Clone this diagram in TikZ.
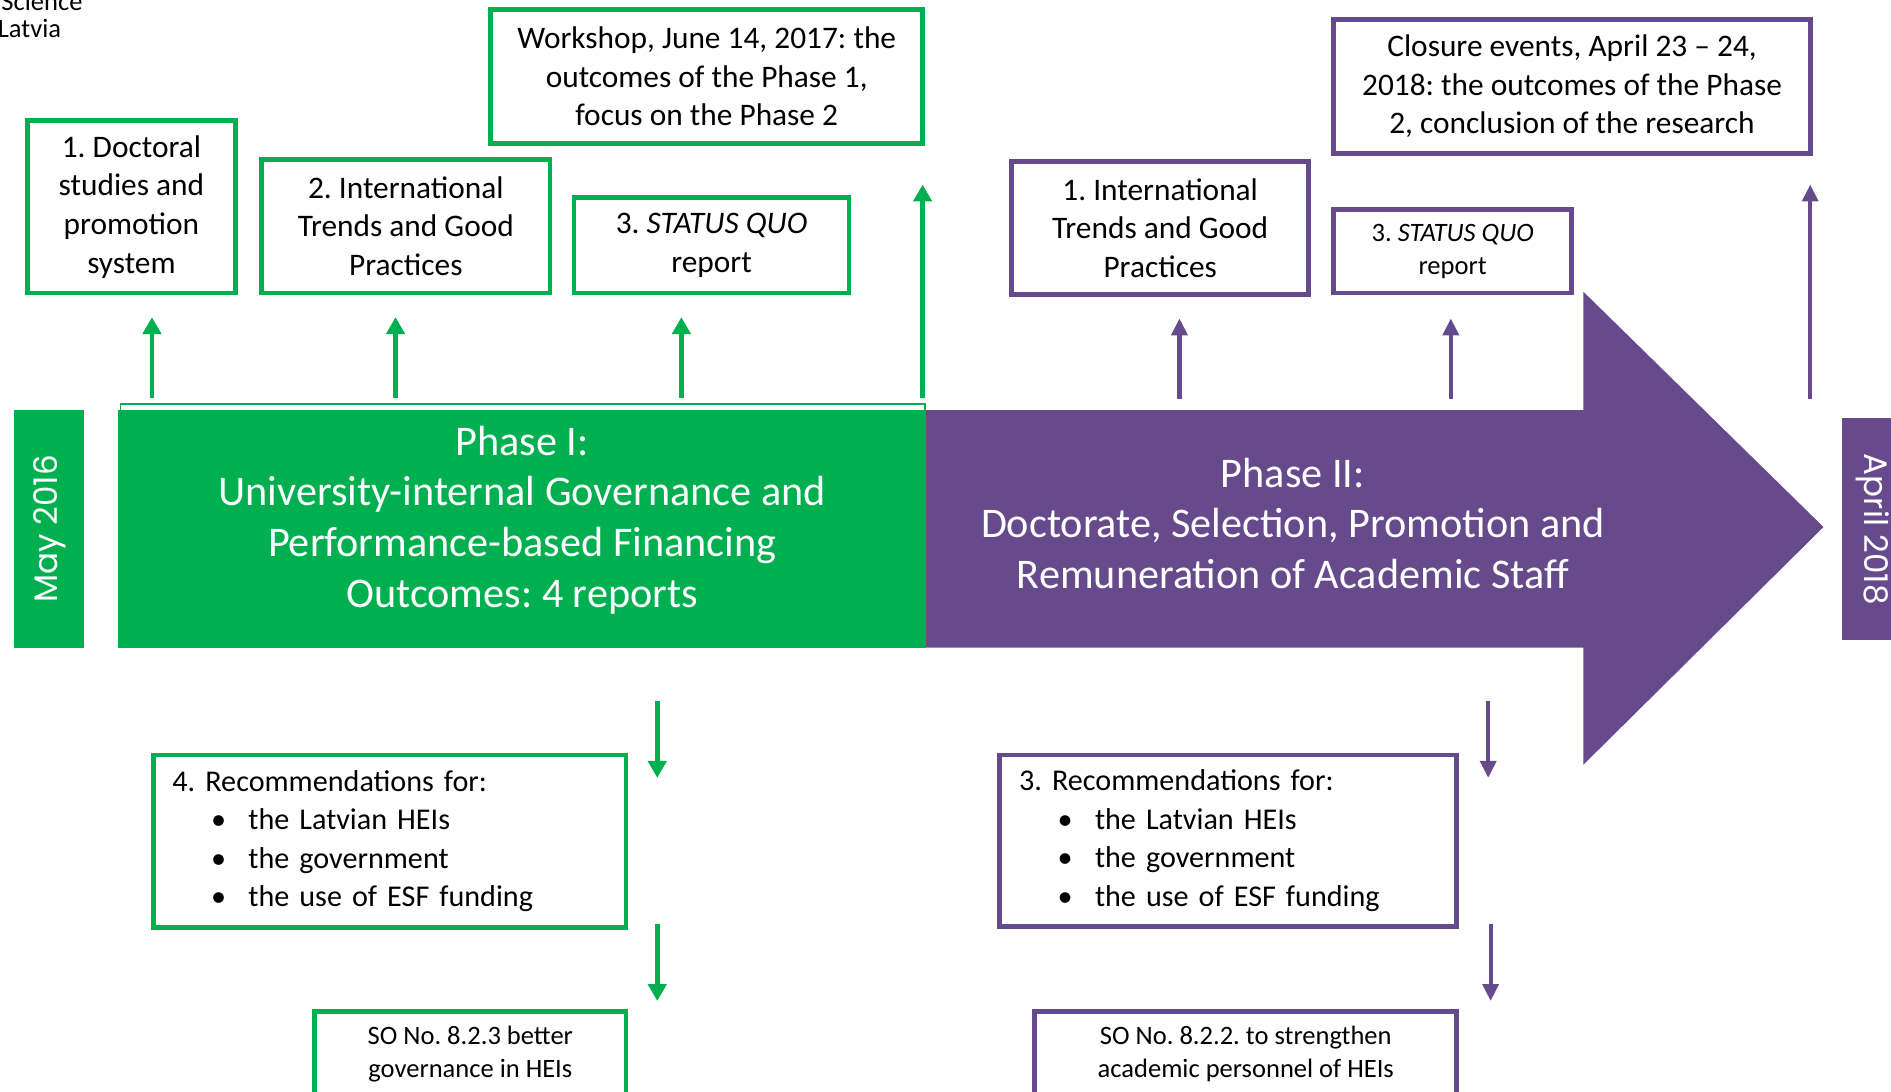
\documentclass[tikz,border=0pt]{standalone}
\usepackage{fontspec}
\setmainfont{Carlito}
\newfontfamily\datefont{Poppins}
\usetikzlibrary{arrows.meta}
\definecolor{sgreen}{HTML}{00B050}
\definecolor{spurple}{HTML}{674A8C}

\newcommand{\recitem}[1]{\hspace*{32pt}\makebox[31pt][l]{\textbullet}#1}

\tikzset{
  gbox/.style={draw=sgreen, line width=4pt, fill=white, inner sep=0pt, align=center, text=black},
  pbox/.style={draw=spurple, line width=4pt, fill=white, inner sep=0pt, align=center, text=black},
  bigtext/.style={font=\fontsize{26}{32}\selectfont},
  rectext/.style={font=\fontsize{25}{32}\selectfont},
  smalltext/.style={font=\fontsize{22}{27}\selectfont},
  phasetext/.style={text=white, font=\fontsize{35}{42}\selectfont, align=center, inner sep=0pt},
  datebox/.style={text=white, font=\datefont\fontsize{27}{30}\selectfont, inner sep=0pt},
  garrow/.style={draw=sgreen, line width=4pt, -{Triangle[width=15pt,length=14pt]}},
  parrow/.style={draw=spurple, line width=3.5pt, -{Triangle[width=13pt,length=14pt]}},
}

\begin{document}
\frenchspacing
\begin{tikzpicture}[x=1pt,y=-1pt]
\useasboundingbox (0,0) rectangle (1568,905);
\clip (0,0) rectangle (1568,905);

% header text at the top left corner
\node[anchor=base west, inner sep=0pt, font=\fontsize{22}{26}\selectfont] (sci) at (1,9) {Science};
\node[anchor=base west, inner sep=0pt, font=\fontsize{22}{26}\selectfont] (lat) at (-2,31) {Latvia};

% phase bars
\draw[sgreen, line width=1pt] (100,335) rectangle (767,341);
\fill[spurple] (768,340) -- (1313,340) -- (1313,242) -- (1512,437) -- (1313,634) -- (1313,537) -- (768,537) -- cycle;
\fill[sgreen] (98,340) rectangle (768,537);

\node[phasetext] (ph1) at (433,431) {Phase I:\\University-internal Governance and\\Performance-based Financing\\Outcomes: 4 reports};
\node[phasetext] (ph2) at (1072,434) {Phase II:\\Doctorate, Selection, Promotion and\\Remuneration of Academic Staff};

% start and end dates
\node[datebox, fill=sgreen, rotate=90, minimum width=197pt, minimum height=58pt] (may) at (41,438.5) {May 2016};
\node[datebox, fill=spurple, rotate=-90, minimum width=184pt, minimum height=52pt] (apr) at (1553,439) {April 2018};

% phase I outputs
\node[gbox, bigtext, minimum width=172pt, minimum height=143pt] (g1) at (109,171.5) {1. Doctoral\\studies and\\promotion\\system};
\node[gbox, bigtext, minimum width=239pt, minimum height=111pt] (g2) at (336.5,187.5) {2. International\\Trends and Good\\Practices};
\node[gbox, bigtext, minimum width=228pt, minimum height=79pt] (g3) at (590,203.5) {3. \textit{STATUS QUO}\\report};
\node[gbox, bigtext, minimum width=358pt, minimum height=111pt] (gw) at (586,63.5) {Workshop, June 14, 2017: the\\outcomes of the Phase 1,\\focus on the Phase 2};

% phase II outputs
\node[pbox, bigtext, minimum width=246pt, minimum height=110pt] (p1) at (962,189) {1. International\\Trends and Good\\Practices};
\node[pbox, smalltext, minimum width=197pt, minimum height=69pt] (p3) at (1204.5,208.5) {3. \textit{STATUS QUO}\\report};
\node[pbox, bigtext, minimum width=395pt, minimum height=111pt] (pc) at (1303.5,71.5) {Closure events, April 23 -- 24,\\2018: the outcomes of the Phase\\2, conclusion of the research};

% recommendations
\node[gbox, rectext, align=left, inner xsep=16pt, text width=360pt, minimum width=392pt, minimum height=143pt] (grec) at (323,697.5)
  {4. Recommendations for:\\\recitem{the Latvian HEIs}\\\recitem{the government}\\\recitem{the use of ESF funding}};
\node[pbox, rectext, align=left, inner xsep=16pt, text width=347pt, minimum width=379pt, minimum height=142pt] (prec) at (1018.5,697)
  {3. Recommendations for:\\\recitem{the Latvian HEIs}\\\recitem{the government}\\\recitem{the use of ESF funding}};

% specific objectives
\node[gbox, minimum width=258pt, minimum height=140pt] (gso) at (390,909) {};
\node[smalltext, align=center, anchor=north, inner sep=0pt] (gsot) at (390,851) {SO No. 8.2.3 better\\governance in HEIs};
\node[pbox, minimum width=350pt, minimum height=140pt] (pso) at (1033,909) {};
\node[smalltext, align=center, anchor=north, inner sep=0pt] (psot) at (1033,851) {SO No. 8.2.2. to strengthen\\academic personnel of HEIs};

% arrow end points
\coordinate (ga1s) at (126,330);  \coordinate (ga1e) at (126,263);
\coordinate (ga2s) at (328,330);  \coordinate (ga2e) at (328,263);
\coordinate (ga3s) at (565,330);  \coordinate (ga3e) at (565,263);
\coordinate (ga4s) at (765,330);  \coordinate (ga4e) at (765,153);
\coordinate (pa1s) at (978,331);  \coordinate (pa1e) at (978,264);
\coordinate (pa2s) at (1203,331); \coordinate (pa2e) at (1203,264);
\coordinate (pa3s) at (1501,331); \coordinate (pa3e) at (1501,153);
\coordinate (gd1s) at (545,581);  \coordinate (gd1e) at (545,645);
\coordinate (gd2s) at (545,766);  \coordinate (gd2e) at (545,830);
\coordinate (pd1s) at (1234,581); \coordinate (pd1e) at (1234,645);
\coordinate (pd2s) at (1236,766); \coordinate (pd2e) at (1236,830);

\draw[garrow] (ga1s) -- (ga1e);
\draw[garrow] (ga2s) -- (ga2e);
\draw[garrow] (ga3s) -- (ga3e);
\draw[garrow] (ga4s) -- (ga4e);
\draw[parrow] (pa1s) -- (pa1e);
\draw[parrow] (pa2s) -- (pa2e);
\draw[parrow] (pa3s) -- (pa3e);
\draw[garrow] (gd1s) -- (gd1e);
\draw[garrow] (gd2s) -- (gd2e);
\draw[parrow] (pd1s) -- (pd1e);
\draw[parrow] (pd2s) -- (pd2e);
\end{tikzpicture}
\end{document}
